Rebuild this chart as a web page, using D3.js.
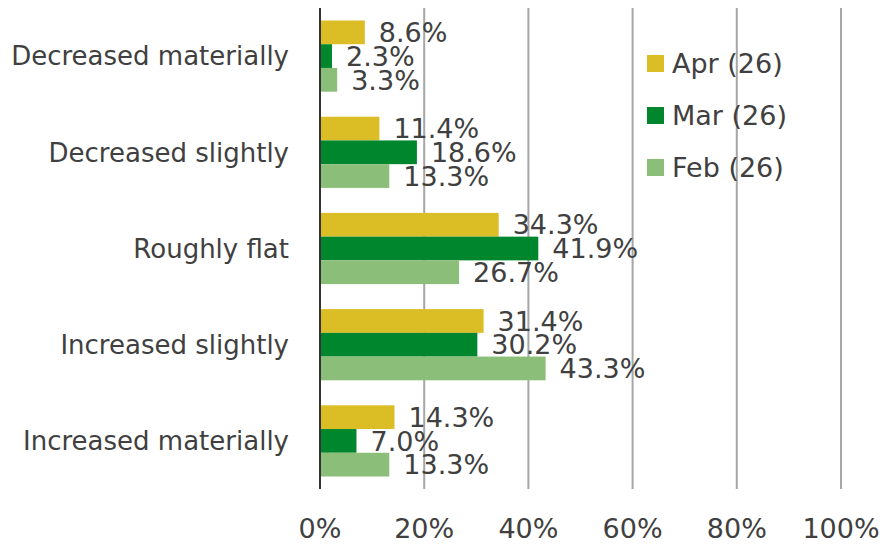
<!DOCTYPE html>
<html>
<head>
<meta charset="utf-8">
<script src="https://cdn.jsdelivr.net/npm/d3@7"></script>
<style>
  body { margin: 0; background: #fff; }
  text { font-family: "DejaVu Sans", Verdana, sans-serif; fill: #404040; }
</style>
</head>
<body>
<div id="chart"></div>
<script>
const categories = ["Decreased materially", "Decreased slightly", "Roughly flat", "Increased slightly", "Increased materially"];
const seriesNames = ["Apr (26)", "Mar (26)", "Feb (26)"];
const aprValues = [8.6, 11.4, 34.3, 31.4, 14.3];
const marValues = [2.3, 18.6, 41.9, 30.2, 7.0];
const febValues = [3.3, 13.3, 26.7, 43.3, 13.3];
const tickValues = [0, 20, 40, 60, 80, 100];

const colors = ["#dbbd25", "#00872d", "#8bbe79"];
const seriesValues = [aprValues, marValues, febValues];

const width = 884, height = 547;
const margin = {top: 8, right: 43, bottom: 58, left: 320};

const svg = d3.select("#chart")
    .append("svg")
    .attr("width", width)
    .attr("height", height);

const x = d3.scaleLinear()
    .domain([0, 100])
    .range([margin.left, width - margin.right]);

const y = d3.scaleBand()
    .domain(categories)
    .range([margin.top, height - margin.bottom])
    .paddingInner(0.26)
    .paddingOuter(0.13);

const ySub = d3.scaleBand()
    .domain(d3.range(seriesNames.length))
    .range([0, y.bandwidth()])
    .padding(0);

// gridlines
svg.append("g")
    .selectAll("line")
    .data(tickValues.slice(1))
    .join("line")
    .attr("x1", d => x(d)).attr("x2", d => x(d))
    .attr("y1", margin.top).attr("y2", height - margin.bottom)
    .attr("stroke", "#a6a6a6")
    .attr("stroke-width", 2);

// bars
const rows = categories.map((c, i) => ({cat: c, vals: seriesValues.map(s => s[i])}));

const group = svg.append("g")
    .selectAll("g")
    .data(rows)
    .join("g")
    .attr("transform", d => `translate(0, ${y(d.cat)})`);

group.selectAll("rect")
    .data(d => d.vals)
    .join("rect")
    .attr("x", x(0))
    .attr("y", (d, i) => ySub(i))
    .attr("width", d => x(d) - x(0))
    .attr("height", ySub.bandwidth())
    .attr("fill", (d, i) => colors[i]);

group.selectAll("text")
    .data(d => d.vals)
    .join("text")
    .attr("x", d => x(d) + 14)
    .attr("y", (d, i) => ySub(i) + ySub.bandwidth() / 2)
    .attr("dy", "0.36em")
    .style("font-size", "27px")
    .text(d => d.toFixed(1) + "%");

// axis line
svg.append("line")
    .attr("x1", x(0)).attr("x2", x(0))
    .attr("y1", margin.top).attr("y2", height - margin.bottom)
    .attr("stroke", "#333")
    .attr("stroke-width", 2);

// category labels
svg.append("g")
    .selectAll("text")
    .data(categories)
    .join("text")
    .attr("x", 289)
    .attr("y", d => y(d) + y.bandwidth() / 2)
    .attr("dy", "0.36em")
    .attr("text-anchor", "end")
    .style("font-size", "26px")
    .text(d => d);

// x tick labels
svg.append("g")
    .selectAll("text")
    .data(tickValues)
    .join("text")
    .attr("x", d => x(d))
    .attr("y", 528)
    .attr("dy", "0.36em")
    .attr("text-anchor", "middle")
    .style("font-size", "27px")
    .text(d => d + "%");

// legend
const legend = svg.append("g")
    .selectAll("g")
    .data(seriesNames)
    .join("g")
    .attr("transform", (d, i) => `translate(647, ${63.5 + i * 52})`);

legend.append("rect")
    .attr("x", 0).attr("y", -8.5)
    .attr("width", 17).attr("height", 17)
    .attr("fill", (d, i) => colors[i]);

legend.append("text")
    .attr("x", 25)
    .attr("y", 0)
    .attr("dy", "0.36em")
    .style("font-size", "27px")
    .text(d => d);
</script>
</body>
</html>
